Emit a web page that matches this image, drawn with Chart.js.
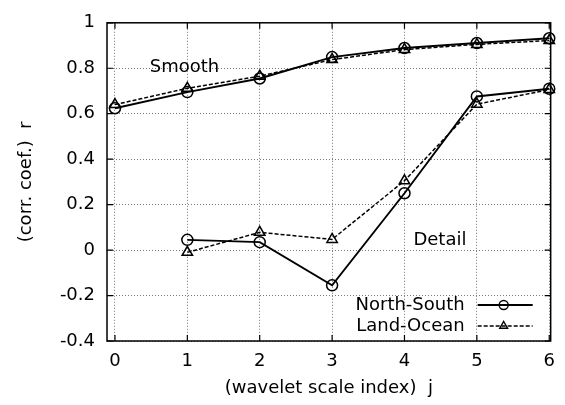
<!DOCTYPE html>
<html>
<head>
<meta charset="utf-8">
<script src="https://cdn.jsdelivr.net/npm/chart.js@4.4.1/dist/chart.umd.min.js"></script>
<style>
  html, body { margin: 0; padding: 0; background: #fff; }
  #wrap { width: 565px; height: 405px; }
</style>
</head>
<body>
<div id="wrap"><canvas id="chart"></canvas></div>
<script>
const J = [0, 1, 2, 3, 4, 5, 6];
const SMOOTH_NS = [0.624, 0.695, 0.755, 0.849, 0.889, 0.911, 0.932];
const SMOOTH_LO = [0.640, 0.712, 0.765, 0.838, 0.882, 0.905, 0.922];
const DETAIL_J = [1, 2, 3, 4, 5, 6];
const DETAIL_NS = [0.045, 0.035, -0.155, 0.250, 0.676, 0.710];
const DETAIL_LO = [-0.010, 0.078, 0.047, 0.305, 0.642, 0.706];

const X_TICKS = [0, 1, 2, 3, 4, 5, 6];
const Y_TICKS = [-0.4, -0.2, 0, 0.2, 0.4, 0.6, 0.8, 1];
const Y_TICK_LABELS = ['-0.4', '-0.2', '0', '0.2', '0.4', '0.6', '0.8', '1'];

const LEGEND = ['North-South', 'Land-Ocean'];
const NOTES = [
  { text: 'Smooth', x: 0.96, y: 0.805 },
  { text: 'Detail', x: 4.49, y: 0.045 }
];

const FONT = '"DejaVu Sans", sans-serif';
const INK = '#000';

const toPoints = (xs, ys) => xs.map((x, i) => ({ x, y: ys[i] }));

const NS_STYLE = { borderDash: [], borderWidth: 1.9, pointStyle: 'circle', pointRadius: 5.5 };
const LO_STYLE = { borderDash: [4, 2], borderWidth: 1.5, pointStyle: 'triangle', pointRadius: 6 };

function series(data, style) {
  return {
    data,
    showLine: true,
    borderColor: INK,
    backgroundColor: 'rgba(0,0,0,0)',
    borderWidth: style.borderWidth,
    borderDash: style.borderDash,
    pointStyle: style.pointStyle,
    pointRadius: style.pointRadius,
    pointBorderWidth: 1.5,
    pointBorderColor: INK,
    pointBackgroundColor: 'rgba(0,0,0,0)',
    clip: false,
    tension: 0
  };
}

// gnuplot-style frame, inward ticks on all sides, labels and key
const framePlugin = {
  id: 'frame',
  afterDraw(chart) {
    const { ctx, chartArea: a, scales } = chart;
    const { x, y } = scales;
    ctx.save();
    ctx.strokeStyle = INK;
    ctx.lineWidth = 1.5;
    ctx.setLineDash([]);
    ctx.strokeRect(a.left, a.top, a.right - a.left, a.bottom - a.top);

    const tl = 6;
    ctx.lineWidth = 1.2;
    ctx.beginPath();
    X_TICKS.forEach((v) => {
      const px = x.getPixelForValue(v);
      ctx.moveTo(px, a.bottom); ctx.lineTo(px, a.bottom - tl);
      ctx.moveTo(px, a.top); ctx.lineTo(px, a.top + tl);
    });
    Y_TICKS.forEach((v) => {
      const py = y.getPixelForValue(v);
      ctx.moveTo(a.left, py); ctx.lineTo(a.left + tl, py);
      ctx.moveTo(a.right, py); ctx.lineTo(a.right - tl, py);
    });
    ctx.stroke();

    ctx.fillStyle = INK;
    ctx.font = '18px ' + FONT;
    ctx.textBaseline = 'middle';
    ctx.textAlign = 'center';
    NOTES.forEach((n) => {
      ctx.fillText(n.text, x.getPixelForValue(n.x), y.getPixelForValue(n.y));
    });

    // key
    const styles = [NS_STYLE, LO_STYLE];
    LEGEND.forEach((label, i) => {
      const ly = a.bottom - 36 + i * 21;
      const tx = a.right - 86;
      ctx.fillStyle = INK;
      ctx.textAlign = 'right';
      ctx.fillText(label, tx, ly);
      const s = styles[i];
      ctx.lineWidth = s.borderWidth;
      ctx.setLineDash(s.borderDash);
      ctx.beginPath();
      ctx.moveTo(tx + 13, ly);
      ctx.lineTo(tx + 68, ly);
      ctx.stroke();
      ctx.setLineDash([]);
      ctx.fillStyle = 'rgba(0,0,0,0)';
      ctx.lineWidth = 1.4;
      Chart.helpers.drawPoint(ctx, {
        pointStyle: s.pointStyle, radius: 4.5, borderWidth: 1.4, rotation: 0
      }, tx + 39, ly);
    });
    ctx.restore();
  }
};

const gridStyle = {
  color: '#777',
  lineWidth: 1,
  drawTicks: false
};

new Chart(document.getElementById('chart'), {
  type: 'scatter',
  data: {
    datasets: [
      series(toPoints(J, SMOOTH_NS), NS_STYLE),
      series(toPoints(J, SMOOTH_LO), LO_STYLE),
      series(toPoints(DETAIL_J, DETAIL_NS), NS_STYLE),
      series(toPoints(DETAIL_J, DETAIL_LO), LO_STYLE)
    ]
  },
  options: {
    responsive: true,
    maintainAspectRatio: false,
    animation: false,
    events: [],
    layout: { padding: { left: 0, top: 13, right: 12, bottom: 0 } },
    plugins: {
      legend: { display: false },
      tooltip: { enabled: false }
    },
    scales: {
      x: {
        type: 'linear',
        min: -0.11,
        max: 6.02,
        afterBuildTicks: (scale) => { scale.ticks = X_TICKS.map((v) => ({ value: v })); },
        afterFit: (scale) => { scale.height = 64; },
        grid: gridStyle,
        border: { display: false, dash: [1, 2] },
        ticks: {
          color: INK,
          padding: 10,
          font: { family: FONT, size: 18 },
          maxRotation: 0,
          callback: (v) => String(v)
        },
        title: {
          display: true,
          text: '(wavelet scale index)  j',
          color: INK,
          font: { family: FONT, size: 18 },
          padding: { top: 0, bottom: 6 }
        }
      },
      y: {
        type: 'linear',
        min: -0.4,
        max: 1,
        afterBuildTicks: (scale) => { scale.ticks = Y_TICKS.map((v) => ({ value: v })); },
        afterFit: (scale) => { scale.width = 107; },
        grid: gridStyle,
        border: { display: false, dash: [1, 2] },
        ticks: {
          color: INK,
          padding: 12,
          font: { family: FONT, size: 18 },
          callback: (v, i) => Y_TICK_LABELS[i]
        },
        title: {
          display: true,
          text: '(corr. coef.)  r',
          color: INK,
          font: { family: FONT, size: 18 },
          padding: { top: 16, bottom: 0 }
        }
      }
    }
  },
  plugins: [framePlugin]
});
</script>
</body>
</html>
